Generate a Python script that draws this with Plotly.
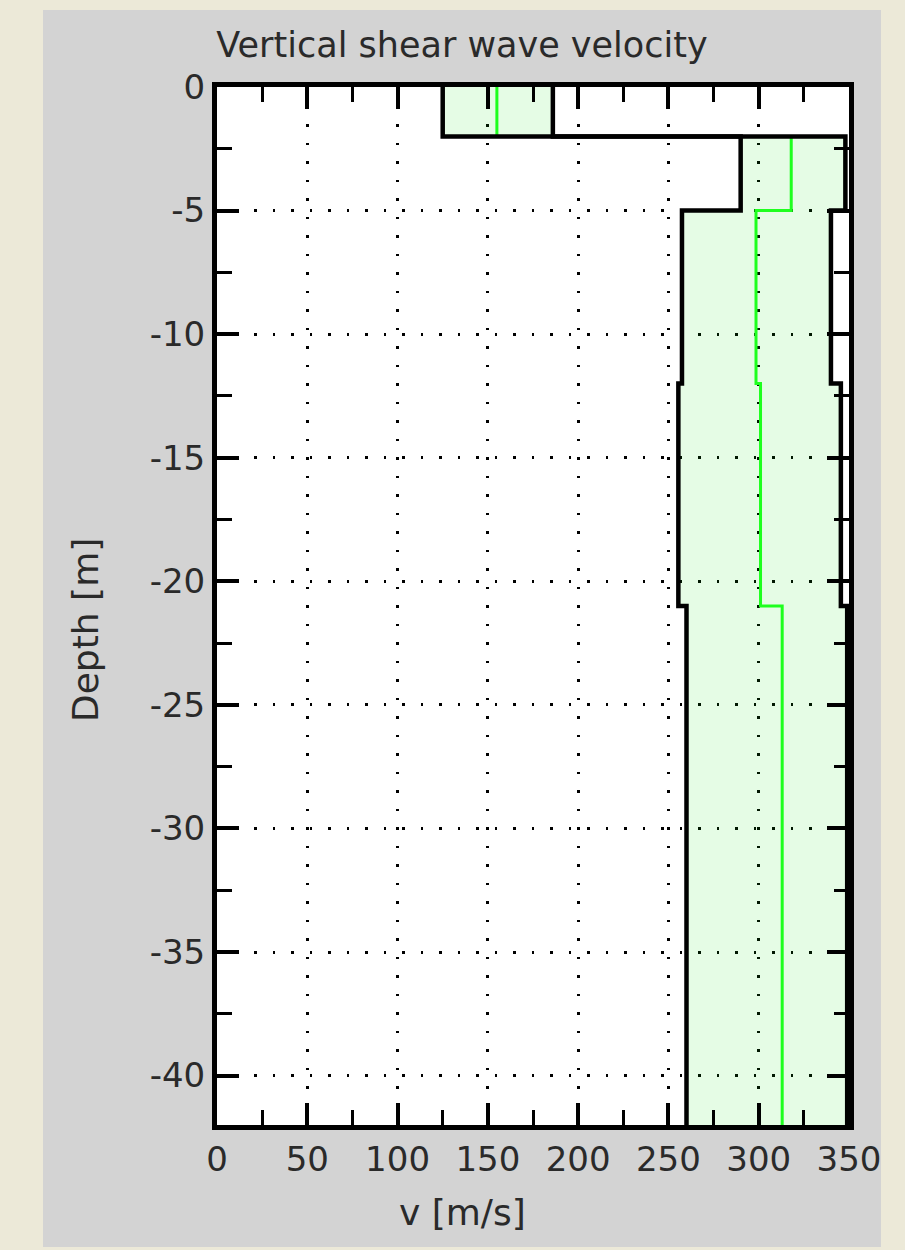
import plotly.graph_objects as go

# ---- data ----
depth_tops = [0, -2, -5, -12, -21]
depth_bottom = -42
v_min = [125, 290, 257.5, 255.5, 260]
v_max = [186, 348, 340, 345.5, 349]
v_mean = [155, 318, 298.5, 301, 313]

x_tickvals = [0, 50, 100, 150, 200, 250, 300, 350]
x_ticktext = ["0", "50", "100", "150", "200", "250", "300", "350"]
y_tickvals = [0, -5, -10, -15, -20, -25, -30, -35, -40]
y_ticktext = ["0", "-5", "-10", "-15", "-20", "-25", "-30", "-35", "-40"]

title_text = "Vertical shear wave velocity"
x_title = "v [m/s]"
y_title = "Depth [m]"

# ---- layout geometry ----
W, H = 905, 1250
L, R, T, B = 217, 56, 87, 125
PW, PH = W - L - R, H - T - B
FONT = "DejaVu Sans"
TXT = "#2a2a2a"


def px_to_paper_x(px):
    return (px - L) / PW


def px_to_paper_y(py):
    return (H - B - py) / PH


def steps(vals):
    return list(vals) + [vals[-1]], list(depth_tops) + [depth_bottom]


fig = go.Figure()

# band between min and max (fill only)
xs, ys = steps(v_min)
fig.add_trace(go.Scatter(x=xs, y=ys, mode="lines", line=dict(color="rgba(0,0,0,0)", width=0, shape="vh"),
                         showlegend=False, hoverinfo="skip"))
xs, ys = steps(v_max)
fig.add_trace(go.Scatter(x=xs, y=ys, mode="lines", line=dict(color="rgba(0,0,0,0)", width=0, shape="vh"),
                         fill="tonextx", fillcolor="rgba(0,225,0,0.10)",
                         showlegend=False, hoverinfo="skip"))
# mean profile (green)
xs, ys = steps(v_mean)
fig.add_trace(go.Scatter(x=xs, y=ys, mode="lines", line=dict(color="#1EFF1E", width=3, shape="vh"),
                         showlegend=False, hoverinfo="skip"))
# min / max profiles (black)
for vals in (v_min, v_max):
    xs, ys = steps(vals)
    fig.add_trace(go.Scatter(x=xs, y=ys, mode="lines", line=dict(color="black", width=4.5, shape="vh"),
                             showlegend=False, hoverinfo="skip"))

axis_common = dict(
    showline=True, linecolor="black", linewidth=5, mirror="ticks",
    ticks="inside", ticklen=22, tickwidth=4, tickcolor="black",
    showgrid=True, gridcolor="black", gridwidth=2.5, griddash="2.5px,16px",
    zeroline=False, layer="above traces",
    tickfont=dict(family=FONT, size=34, color=TXT),
)

fig.update_xaxes(
    range=[0, 350], tickmode="array", tickvals=x_tickvals, ticktext=x_ticktext,
    minor=dict(tickmode="linear", tick0=0, dtick=25, ticks="inside", ticklen=15,
               tickwidth=3, tickcolor="black", showgrid=False),
    **axis_common,
)
fig.update_yaxes(
    range=[depth_bottom, 0], tickmode="array", tickvals=y_tickvals, ticktext=y_ticktext,
    minor=dict(tickmode="linear", tick0=0, dtick=2.5, ticks="inside", ticklen=15,
               tickwidth=3, tickcolor="black", showgrid=False),
    **axis_common,
)

shapes = [
    # gray panel
    dict(type="rect", xref="paper", yref="paper", layer="below",
         x0=px_to_paper_x(43), x1=px_to_paper_x(881),
         y0=px_to_paper_y(1247), y1=px_to_paper_y(10),
         fillcolor="#D3D3D3", line=dict(width=0)),
    # white plotting area
    dict(type="rect", xref="paper", yref="paper", layer="below",
         x0=0, x1=1, y0=0, y1=1, fillcolor="white", line=dict(width=0)),
]

annotations = [
    dict(text=x_title, xref="paper", yref="paper", x=px_to_paper_x(462), y=px_to_paper_y(1213),
         xanchor="center", yanchor="middle", showarrow=False,
         font=dict(family=FONT, size=36, color=TXT)),
    dict(text=y_title, xref="paper", yref="paper", x=px_to_paper_x(85), y=px_to_paper_y(630),
         xanchor="center", yanchor="middle", showarrow=False, textangle=-90,
         font=dict(family=FONT, size=36, color=TXT)),
]

fig.update_layout(
    width=W, height=H, autosize=False,
    margin=dict(l=L, r=R, t=T, b=B, pad=0),
    paper_bgcolor="#ECE9D8", plot_bgcolor="white",
    title=dict(text=title_text, xref="container", yref="container",
               x=462 / W, y=1 - 45 / H, xanchor="center", yanchor="middle",
               font=dict(family=FONT, size=35, color=TXT)),
    shapes=shapes, annotations=annotations,
    showlegend=False,
)

fig.write_html("out.html")
